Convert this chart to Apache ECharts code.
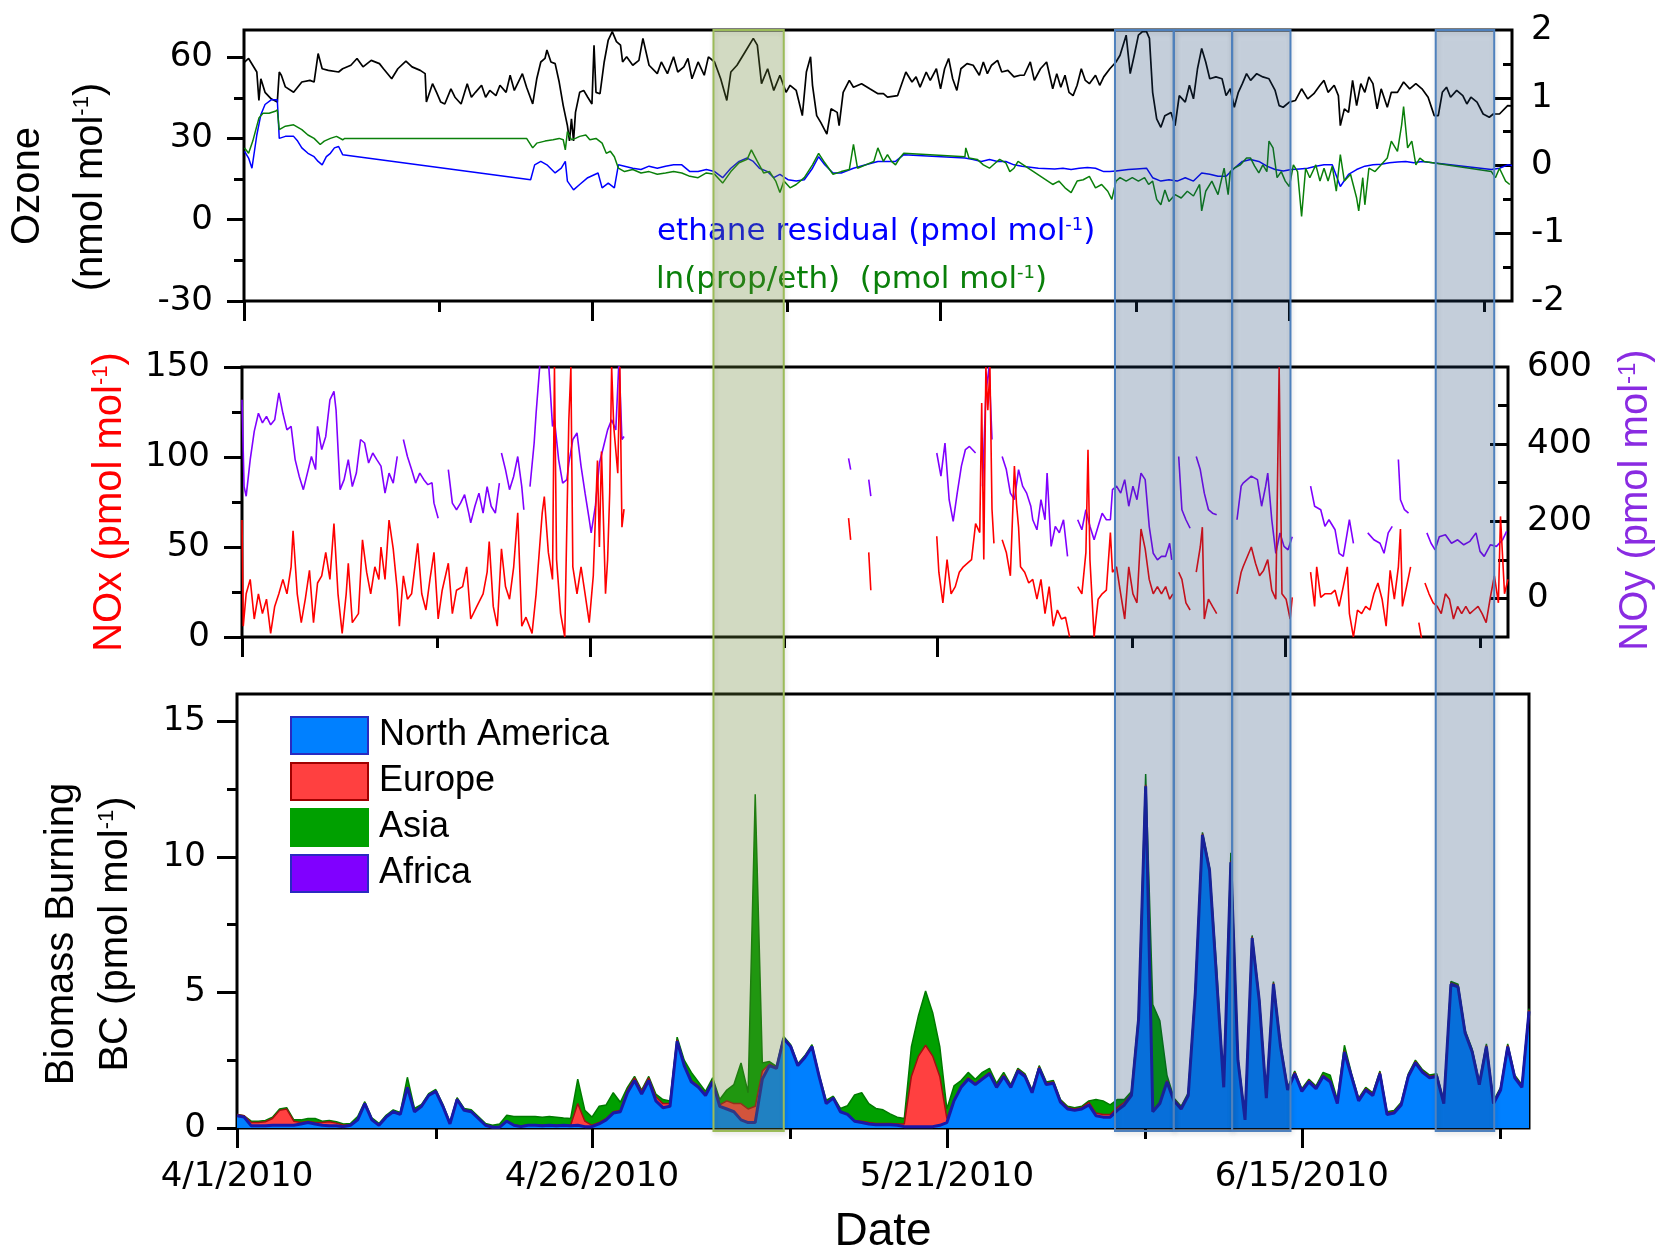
<!DOCTYPE html>
<html>
<head>
<meta charset="utf-8">
<script src="https://cdn.jsdelivr.net/npm/echarts@6/dist/echarts.min.js"></script>
<style>
  html, body { margin: 0; padding: 0; background: #fff; }
  #chart { width: 1657px; height: 1252px; }
</style>
</head>
<body>
<div id="chart"></div>
<script>
// Time axis: days since 1 Apr 2010 (0 .. 91)
const tickDays = [0, 25, 50, 75];
const tickLabels = ['4/1/2010', '4/26/2010', '5/21/2010', '6/15/2010'];
const minorTickDays = [14, 39, 64, 89];

// Highlighted periods (days since 1 Apr 2010)
const asiaPeriods = [[33.56, 38.51]];
const northAmericaPeriods = [[61.84, 65.98], [65.98, 70.09], [70.09, 74.2], [84.43, 88.55]];

// Ozone, nmol/mol : [day, value]
const ozone = [
  [0,58],[0.33,59.5],[0.92,54.5],[1.07,44],[1.21,52],[1.51,47],[1.95,44.6],[2.09,45.2],[2.39,43.4],[2.53,54.5],
  [2.68,53.3],[2.97,49],[3.56,47],[4.15,50.8],[4.73,51.4],[5.03,50.8],[5.32,61.3],[5.61,55.7],[6.05,55.1],[6.79,54.5],
  [7.08,55.7],[7.67,57],[8.11,59.5],[8.54,56.4],[9.13,58.8],[9.72,57.6],[10.01,55.7],[10.6,52],[11.04,55.7],[11.62,58.5],
  [12.06,56.4],[12.65,55.1],[13.0,53.9],[13.09,43.4],[13.53,50.2],[13.82,47],[14.12,43.4],[14.41,42.7],[14.85,48.3],[15.14,45.2],
  [15.58,42.7],[16.02,50.2],[16.32,45.2],[16.61,47],[17.05,49.6],[17.34,45.2],[17.64,47.7],[18.08,45.8],[18.37,49.6],[18.81,47],
  [19.1,53.3],[19.4,47.7],[19.98,53.9],[20.28,48.9],[20.72,42.7],[21.01,52],[21.3,58.2],[21.6,59.5],[21.74,62.6],[22.03,58.2],
  [22.33,57.6],[22.62,50.8],[22.91,42.1],[23.21,34.7],[23.36,29.1],[23.5,37.2],[23.65,29.1],[23.79,39.6],[24.09,47],[24.38,47.7],
  [24.67,45.2],[24.97,42.7],[25.12,64.4],[25.26,47],[25.55,46.5],[25.85,58.2],[26.14,66.3],[26.43,69.4],[26.73,65.7],[27.02,64.4],
  [27.17,58.2],[27.46,60.1],[27.9,57],[28.34,58.8],[28.63,66.9],[29.07,57],[29.66,53.9],[29.95,58.2],[30.39,53.9],[30.83,60.1],
  [31.13,54.5],[31.57,56.4],[31.86,59.5],[32.15,52],[32.59,58.2],[33.03,53.3],[33.33,60.1],[33.77,58.2],[34.21,52],[34.65,44],
  [34.94,54.5],[35.38,57],[35.96,61.9],[36.55,66.9],[36.84,64.4],[37.14,50.2],[37.58,55.7],[38.02,47.7],[38.46,53.3],[38.9,47],
  [39.19,49.6],[39.63,47.7],[40.07,38.4],[40.36,54.5],[40.66,60.1],[40.8,49.6],[41.1,38.4],[41.39,35.9],[41.83,31.6],[42.13,40.9],
  [42.57,39.6],[42.71,34.7],[43.0,47],[43.44,51.4],[43.74,48.9],[44.32,50.2],[44.91,48.3],[45.5,46.5],[45.89,46.5],[46.18,45.2],
  [46.91,45.8],[47.5,54.5],[47.94,50.8],[48.23,52.7],[48.52,48.9],[48.96,54.5],[49.25,51.4],[49.69,55.7],[49.99,48.3],[50.28,55.7],
  [50.57,59.5],[50.86,52],[51.16,47.7],[51.45,55.7],[51.89,57.6],[52.33,57],[52.77,53.3],[53.06,58.2],[53.35,53.9],[53.65,57],
  [54.08,58.8],[54.38,54.5],[54.82,55.1],[55.26,52.7],[55.7,53.3],[55.99,53.3],[56.43,58.2],[56.72,51.4],[57.16,55.7],[57.6,58.2],
  [58.04,48.3],[58.33,53.9],[58.62,48.9],[58.92,53.3],[59.21,47],[59.5,45.8],[59.79,49.6],[60.09,55.7],[60.38,51.4],[60.67,50.2],
  [61.11,53.3],[61.41,49.6],[61.7,52.7],[62.14,55.7],[62.58,58.2],[62.87,60.7],[63.31,68.1],[63.6,53.9],[63.89,60.7],[64.19,68.1],
  [64.48,69.4],[64.77,69.4],[64.98,66.9],[65.21,47],[65.5,37.2],[65.8,34.1],[66.09,38.4],[66.53,39.6],[66.82,34.7],[67.12,45.8],
  [67.55,43.4],[67.85,49.6],[68.14,44.6],[68.43,55.7],[68.73,63.2],[69.02,58.2],[69.31,52],[69.75,52.7],[70.19,52],[70.48,45.8],
  [70.78,48.3],[71.07,41.5],[71.36,47],[71.65,50.2],[71.95,53.9],[72.24,51.4],[72.68,53.9],[73.12,52.7],[73.56,52],[74.0,47.7],
  [74.29,42.1],[74.58,41.5],[75.02,43.4],[75.46,44],[75.9,48.3],[76.34,44.6],[76.78,46.5],[77.22,49.6],[77.51,51.4],[77.8,47],
  [78.24,49.6],[78.54,45.8],[78.68,34.7],[78.97,40.9],[79.27,39.6],[79.56,51.4],[79.85,42.1],[80.15,50.2],[80.44,47],[80.73,52.7],
  [81.02,50.2],[81.32,40.9],[81.61,48.3],[82.05,41.5],[82.34,47],[82.78,47],[83.22,50.8],[83.66,48.3],[84.1,50.2],[84.54,48.3],
  [84.98,45.2],[85.42,38.4],[85.71,38.4],[86.0,47],[86.3,48.9],[86.59,45.2],[87.03,47.7],[87.47,45.8],[87.76,42.7],[88.05,45.2],
  [88.49,43.4],[88.93,39],[89.37,37.8],[89.66,39],[90.1,39],[90.69,42.1],[91,42]
];

// Ethane residual, pmol/mol (right axis) : [day, value]
const ethaneResidual = [
  [0.04,0.21],[0.33,0.11],[0.57,-0.04],[0.92,0.45],[1.21,0.75],[1.51,0.9],[1.95,0.97],[2.39,0.97],[2.53,0.4],[2.97,0.43],
  [3.56,0.43],[3.85,0.36],[4.15,0.26],[4.59,0.18],[5.03,0.13],[5.32,0.06],[5.61,0.01],[5.91,0.13],[6.2,0.18],[6.49,0.26],
  [6.79,0.28],[7.08,0.16],[20.57,-0.21],[20.86,0.01],[21.3,0.06],[21.74,0.01],[22.33,-0.11],[22.77,-0.04],[23.06,0.06],[23.21,-0.23],
  [23.65,-0.36],[24.09,-0.28],[24.67,-0.18],[25.41,-0.11],[25.7,-0.33],[26.14,-0.26],[26.58,-0.33],[26.87,0.01],[27.31,-0.01],[27.9,-0.04],
  [28.49,-0.06],[29.07,-0.01],[29.66,-0.04],[30.25,-0.01],[30.83,0.01],[31.42,0.01],[32.0,-0.09],[32.59,-0.09],[33.18,-0.06],[33.77,-0.09],
  [34.35,-0.18],[34.94,-0.04],[35.53,0.06],[36.11,0.11],[36.55,0.06],[36.99,-0.04],[37.58,-0.09],[38.02,-0.18],[38.46,-0.13],[39.04,-0.21],
  [39.63,-0.23],[40.21,-0.21],[40.8,-0.04],[41.24,0.13],[41.68,0.01],[42.27,-0.11],[42.86,-0.11],[43.74,-0.04],[44.62,0.01],[45.49,0.06],
  [46.76,0.06],[47.35,0.16],[51.74,0.11],[52.33,0.09],[52.91,0.06],[53.5,0.09],[54.08,0.06],[54.67,0.06],[55.26,0.01],[55.84,-0.01],
  [57.01,-0.04],[58.18,-0.05],[58.77,-0.04],[59.36,-0.06],[59.94,-0.04],[60.53,-0.03],[61.11,-0.04],[61.7,-0.09],[62.14,-0.09],[62.58,-0.08],
  [63.46,-0.06],[64.04,-0.05],[64.77,-0.04],[65.21,-0.18],[65.8,-0.23],[66.38,-0.21],[66.97,-0.23],[67.55,-0.18],[68.14,-0.23],[68.73,-0.11],
  [69.31,-0.13],[69.9,-0.16],[70.48,-0.16],[71.07,-0.04],[71.65,0.06],[72.24,0.09],[72.83,0.06],[73.41,-0.01],[74.0,-0.06],[74.58,-0.08],
  [75.17,-0.06],[75.75,-0.05],[76.34,-0.04],[76.92,-0.01],[77.51,0.01],[78.1,0.01],[78.68,-0.31],[79.27,-0.13],[79.85,-0.06],[80.44,-0.01],
  [81.02,0.01],[81.61,0.02],[82.2,0.04],[82.78,0.05],[83.37,0.06],[83.95,0.04],[84.54,0.06],[89.52,-0.06],[90.1,-0.04],[90.69,0.01],
  [91,0.0]
];

// ln(propane/ethane) (right axis) : [day, value]
const lnPropEth = [
  [0.04,0.26],[0.33,0.18],[0.63,0.36],[1.07,0.7],[1.36,0.77],[1.8,0.77],[2.24,0.8],[2.39,0.82],[2.53,0.53],[2.97,0.58],
  [3.56,0.6],[4.15,0.53],[4.59,0.45],[5.03,0.4],[5.47,0.31],[5.76,0.36],[6.2,0.4],[6.64,0.43],[7.08,0.38],[7.23,0.4],
  [20.28,0.4],[20.42,0.38],[20.72,0.26],[21.01,0.33],[21.6,0.36],[22.18,0.38],[22.62,0.4],[22.91,0.38],[23.06,0.23],[23.21,0.5],
  [23.5,0.38],[23.79,0.4],[24.09,0.43],[24.53,0.45],[24.82,0.38],[25.26,0.4],[25.7,0.33],[26.0,0.18],[26.29,0.21],[26.58,0.13],
  [26.87,-0.04],[27.31,-0.09],[27.9,-0.06],[28.49,-0.11],[29.07,-0.09],[29.66,-0.13],[30.25,-0.11],[30.83,-0.09],[31.42,-0.11],[32.0,-0.16],
  [32.59,-0.18],[33.18,-0.11],[33.77,-0.13],[34.35,-0.26],[34.94,-0.09],[35.53,0.04],[36.11,0.09],[36.41,0.23],[36.84,0.06],[37.29,-0.11],
  [37.72,-0.09],[38.16,-0.23],[38.46,-0.4],[38.75,-0.23],[39.19,-0.33],[39.63,-0.28],[40.21,-0.18],[40.8,0.01],[41.24,0.18],[41.68,0.04],
  [42.27,-0.13],[42.86,-0.09],[43.44,-0.06],[43.74,0.31],[44.03,-0.04],[44.62,0.01],[45.2,0.06],[45.49,0.26],[45.89,0.06],[46.18,0.16],
  [46.47,0.06],[46.76,0.01],[47.06,0.11],[47.35,0.18],[51.74,0.13],[51.8,0.26],[52.03,0.11],[52.62,0.09],[53.06,0.01],[53.5,-0.04],
  [53.94,0.04],[54.23,0.09],[54.67,0.04],[54.96,-0.09],[55.26,-0.04],[55.55,0.06],[58.04,-0.28],[58.48,-0.23],[58.92,-0.33],[59.36,-0.4],
  [59.79,-0.23],[60.23,-0.21],[60.67,-0.16],[61.11,-0.33],[61.55,-0.28],[61.99,-0.38],[62.28,-0.5],[62.58,-0.23],[62.87,-0.18],[63.31,-0.23],
  [63.75,-0.18],[64.19,-0.23],[64.63,-0.18],[64.92,-0.28],[65.21,-0.23],[65.5,-0.5],[65.8,-0.58],[66.09,-0.36],[66.38,-0.53],[66.82,-0.43],
  [67.26,-0.48],[67.7,-0.38],[68.14,-0.45],[68.58,-0.28],[68.73,-0.67],[69.02,-0.38],[69.46,-0.23],[69.9,-0.43],[70.34,-0.04],[70.63,-0.43],
  [70.78,-0.09],[71.07,-0.04],[71.51,0.01],[71.95,0.11],[72.24,0.11],[72.53,-0.01],[72.83,-0.11],[73.12,0.01],[73.41,-0.09],[73.56,0.36],
  [73.85,0.26],[74.14,-0.18],[74.44,-0.09],[74.73,-0.23],[75.02,-0.31],[75.31,0.01],[75.61,-0.09],[75.9,-0.75],[76.19,-0.04],[76.49,-0.18],
  [76.92,0.01],[77.22,-0.23],[77.51,-0.04],[77.8,-0.23],[78.1,-0.01],[78.39,-0.38],[78.68,0.16],[78.97,-0.23],[79.41,-0.13],[79.85,-0.48],
  [80.0,-0.67],[80.29,-0.18],[80.44,-0.58],[80.73,-0.04],[81.17,-0.09],[81.61,0.01],[82.05,0.11],[82.34,0.36],[82.78,0.21],[83.08,0.6],
  [83.22,0.87],[83.51,0.26],[83.81,0.36],[84.1,0.01],[84.39,0.11],[84.69,0.06],[89.52,-0.09],[89.81,-0.18],[90.1,-0.04],[90.54,-0.23],
  [90.84,-0.28]
];

// NOx, pmol/mol : [day, value]; null marks a data gap
const nox = [
  [0.0,65],[0.09,6],[0.3,24],[0.59,32],[0.88,10],[1.18,24],[1.47,13],[1.76,21],[2.06,2],[2.35,17],
  [2.65,24],[2.94,32],[3.23,24],[3.53,39],[3.67,59],[3.97,24],[4.26,8],[4.55,21],[4.85,37],[5.14,8],
  [5.43,30],[5.73,34],[6.02,47],[6.32,32],[6.61,63],[6.9,24],[7.2,2],[7.49,24],[7.64,41],[7.93,8],
  [8.37,13],[8.66,54],[8.96,36],[9.25,24],[9.55,39],[9.84,32],[9.99,50],[10.28,32],[10.57,65],[10.87,49],
  [11.16,26],[11.31,6],[11.6,34],[11.89,21],[12.19,24],[12.63,52],[12.92,24],[13.22,15],[13.51,32],[13.8,47],
  [14.1,10],[14.39,26],[14.83,41],[15.12,13],[15.42,26],[15.86,28],[16.15,39],[16.44,10],[16.88,17],[17.33,24],
  [17.62,36],[17.77,53],[18.06,17],[18.35,6],[18.65,49],[18.94,28],[19.23,21],[19.53,39],[19.82,69],[20.11,6],
  [20.41,11],[20.85,2],[21.14,24],[21.58,69],[21.73,78],[22.02,47],[22.32,32],[22.46,150],[22.61,43],[22.9,13],
  [23.2,0],[23.49,120],[23.64,150],[23.78,39],[24.08,24],[24.37,39],[24.66,24],[24.96,8],[25.25,34],[25.55,98],
  [25.69,50],[25.84,103],[26.13,24],[26.28,43],[26.43,80],[26.57,150],[26.72,117],[27.01,91],[27.16,150],[27.31,61],
  [27.46,71],[27.6,null],
  [43.6,66],[43.75,54],[43.9,null],[45.05,47],[45.2,26],[45.4,null],
  [49.94,56],[50.09,36],[50.38,19],[50.68,43],[50.97,24],[51.27,28],[51.56,36],[51.85,39],[52.15,41],[52.44,43],
  [52.73,63],[53.03,58],[53.17,130],[53.32,43],[53.47,150],[53.61,126],[53.76,150],[53.91,71],[54.05,52],[54.3,null],
  [54.64,54],[54.94,47],[55.23,34],[55.52,95],[55.67,74],[55.82,61],[55.96,39],[56.26,36],[56.55,30],[56.84,32],
  [57.14,21],[57.43,32],[57.72,13],[58.02,28],[58.31,6],[58.61,15],[58.9,10],[59.19,11],[59.49,0],[59.7,null],
  [60.07,28],[60.37,24],[60.66,47],[60.81,104],[60.95,43],[61.25,0],[61.54,21],[61.83,24],[62.13,26],[62.42,58],
  [62.57,36],[62.86,39],[63.16,24],[63.45,10],[63.74,39],[64.04,24],[64.33,19],[64.62,60],[64.92,49],[65.21,32],
  [65.5,24],[65.8,28],[66.09,24],[66.39,28],[66.68,21],[66.91,24],[67.0,null],[67.33,36],[67.56,32],[67.85,19],
  [68.15,15],[68.3,null],[68.59,36],[68.88,50],[69.03,61],[69.17,10],[69.47,21],[69.76,17],[70.06,13],[70.5,null],
  [71.52,24],[71.82,36],[71.96,39],[72.55,50],[72.85,41],[73.14,34],[73.43,37],[73.73,43],[74.02,26],[74.31,21],
  [74.55,150],[74.75,24],[75.05,21],[75.34,10],[75.49,22],[76.0,null],[76.81,36],[77.1,17],[77.25,39],[77.54,22],
  [77.84,24],[78.28,24],[78.57,26],[78.86,17],[79.16,28],[79.45,39],[79.6,13],[79.89,0],[80.18,15],[80.48,13],
  [80.77,17],[81.07,15],[81.36,24],[81.65,30],[81.95,21],[82.24,6],[82.53,37],[82.83,21],[83.12,39],[83.27,60],
  [83.41,17],[83.71,28],[84.0,39],[84.3,null],[84.59,8],[84.88,-5],[84.95,null],[85.03,30],[85.32,24],[85.62,19],
  [85.91,17],[86.2,13],[86.5,24],[86.79,21],[87.08,10],[87.38,17],[87.67,13],[87.97,17],[88.26,13],[88.55,15],
  [88.85,17],[89.14,13],[89.43,8],[89.73,22],[90.02,34],[90.31,19],[90.46,67],[90.75,24],[91,32]
];

// NOy, pmol/mol (right axis) : [day, value]; null marks a data gap
const noy = [
  [0.0,515],[0.15,290],[0.3,265],[0.59,360],[0.88,433],[1.18,480],[1.47,455],[1.76,472],[2.06,450],[2.35,463],
  [2.65,533],[2.94,480],[3.23,437],[3.53,446],[3.82,360],[4.11,317],[4.41,282],[4.7,325],[4.99,368],[5.29,334],
  [5.43,446],[5.73,386],[6.02,420],[6.32,515],[6.61,537],[6.76,489],[7.05,282],[7.34,308],[7.64,360],[7.93,290],
  [8.22,325],[8.52,412],[8.81,403],[9.1,351],[9.4,377],[9.69,360],[9.99,343],[10.28,273],[10.57,325],[10.87,299],
  [11.16,368],[11.4,null],[11.6,412],[11.89,368],[12.19,334],[12.48,299],[12.78,325],[13.07,308],[13.36,295],[13.66,300],
  [13.8,247],[14.1,208],[14.4,null],[14.83,334],[15.12,247],[15.42,230],[15.71,247],[16.0,269],[16.3,221],[16.44,196],
  [16.74,239],[17.03,273],[17.33,221],[17.62,290],[17.91,239],[18.21,221],[18.5,299],[18.58,null],[18.65,377],[18.94,334],
  [19.23,282],[19.53,317],[19.82,368],[20.11,290],[20.26,230],[20.4,null],[20.7,290],[21.0,403],[21.14,480],[21.44,620],
  [21.73,650],[22.02,620],[22.32,446],[22.46,463],[22.76,360],[23.05,299],[23.35,308],[23.49,350],[23.78,412],[24.08,429],
  [24.37,343],[24.66,273],[24.96,204],[25.1,170],[25.4,239],[25.69,351],[25.99,394],[26.28,437],[26.57,463],[26.87,437],
  [27.1,620],[27.31,412],[27.46,420],[27.6,null],
  [43.6,363],[43.75,334],[43.9,null],[45.05,308],[45.2,265],[45.4,null],
  [49.94,377],[50.24,317],[50.53,403],[50.83,256],[51.12,200],[51.41,273],[51.71,343],[52.0,386],[52.29,394],[52.73,377],
  [52.9,null],[53.23,291],[53.47,533],[53.7,600],[53.91,412],[54.1,null],[54.64,368],[54.94,334],[55.23,273],[55.52,256],
  [55.82,334],[56.11,291],[56.4,273],[56.7,239],[56.84,204],[57.14,178],[57.43,256],[57.72,204],[57.87,325],[58.16,135],
  [58.46,187],[58.75,170],[59.05,204],[59.34,109],[59.6,null],[60.07,204],[60.37,178],[60.66,230],[60.95,187],[61.25,152],
  [61.54,187],[61.83,221],[62.13,204],[62.42,204],[62.57,282],[62.86,291],[63.16,273],[63.45,308],[63.74,239],[64.04,291],
  [64.33,256],[64.62,325],[64.92,308],[65.21,187],[65.5,117],[65.8,100],[66.09,109],[66.39,109],[66.68,143],[66.83,100],
  [67.0,null],[67.33,368],[67.56,230],[67.85,204],[68.15,182],[68.3,null],[68.59,368],[68.88,334],[69.17,273],[69.47,230],
  [69.76,221],[70.06,217],[70.5,null],[71.52,204],[71.82,291],[71.96,299],[72.55,317],[72.99,308],[73.29,239],[73.58,291],
  [73.73,325],[74.02,204],[74.31,117],[74.61,170],[74.9,135],[75.19,126],[75.49,160],[76.0,null],[76.81,291],[77.1,239],
  [77.54,230],[77.84,187],[78.13,204],[78.57,178],[78.86,117],[79.16,109],[79.6,204],[79.89,143],[80.05,null],[80.48,117],
  [80.6,null],[80.92,170],[81.36,152],[81.8,143],[82.09,117],[82.39,170],[82.68,187],[82.8,null],[83.12,360],[83.27,256],
  [83.56,230],[83.85,221],[84.2,null],[85.17,170],[85.47,143],[85.76,126],[86.06,160],[86.5,165],[86.94,143],[87.38,152],
  [87.82,139],[88.26,148],[88.7,170],[88.99,122],[89.29,109],[89.73,139],[90.17,135],[90.61,152],[90.9,174]
];

// Biomass-burning BC by source region, pmol/mol, one value every half day (day 0 .. 91)
const BC_STEP_DAYS = 0.5;
const bcNorthAmerica = [
  0.45, 0.4, 0.08, 0.08, 0.08, 0.1, 0.1, 0.1, 0.1, 0.15,
  0.2, 0.15, 0.1, 0.08, 0.08, 0.05, 0.1, 0.3, 0.9, 0.3,
  0.1, 0.4, 0.6, 0.5, 1.5, 0.6, 0.8, 1.2, 1.35, 0.8,
  0.15, 1.05, 0.65, 0.6, 0.35, 0.1, 0.03, 0.03, 0.25, 0.1,
  0.05, 0.1, 0.1, 0.08, 0.1, 0.08, 0.1, 0.08, 0.1, 0.05,
  0.05, 0.15, 0.3, 0.55, 0.6, 1.3, 1.75, 1.25, 1.75, 1.0,
  0.75, 0.8, 3.2, 2.3, 1.7, 1.5, 1.2, 1.7, 0.8, 0.7,
  0.6, 0.3, 0.2, 0.2, 1.8, 2.3, 2.2, 3.3, 3.0, 2.3,
  2.6, 3.0, 1.9, 0.9, 1.1, 0.6, 0.5, 0.25, 0.2, 0.15,
  0.12, 0.12, 0.12, 0.1, 0.05, 0.05, 0.05, 0.05, 0.05, 0.1,
  0.2, 1.0, 1.5, 1.8, 1.6, 1.8, 2.0, 1.5, 1.9, 1.5,
  2.1, 1.9, 1.3, 2.2, 1.6, 1.65, 0.95, 0.7, 0.65, 0.7,
  0.85, 0.45, 0.4, 0.4, 0.65, 0.85, 1.2, 4.0, 12.6, 0.6,
  0.9, 1.7, 1.0, 0.7, 1.2, 5.0, 10.8, 9.5, 5.5, 1.5,
  9.8, 2.5, 0.3, 7.0, 4.7, 1.1, 5.3, 3.0, 1.4, 2.0,
  1.35, 1.7, 1.45, 1.9, 1.7, 0.9, 2.8, 1.9, 1.0, 1.4,
  1.2, 2.0, 0.5, 0.55, 0.85, 1.9, 2.4, 2.05, 1.85, 1.9,
  0.9, 5.3, 5.2, 3.5, 2.8, 1.6, 3.0, 0.9, 1.4, 3.0,
  1.85, 1.5, 4.3
];
const bcEurope = [
  0.05, 0.05, 0.12, 0.12, 0.15, 0.25, 0.55, 0.6, 0.15, 0.05,
  0.05, 0.05, 0.1, 0.15, 0.1, 0.05, 0.02, 0.02, 0.02, 0.02,
  0.02, 0.02, 0.02, 0.02, 0.02, 0.02, 0.02, 0.02, 0.02, 0.02,
  0.02, 0.02, 0.02, 0.02, 0.02, 0.02, 0.02, 0.02, 0.02, 0.02,
  0.02, 0.02, 0.02, 0.02, 0.02, 0.02, 0.02, 0.02, 0.8, 0.2,
  0.05, 0.05, 0.05, 0.05, 0.05, 0.1, 0.1, 0.1, 0.1, 0.15,
  0.15, 0.1, 0.05, 0.05, 0.05, 0.05, 0.05, 0.05, 0.05, 0.3,
  0.3, 0.6, 0.5, 0.6, 0.3, 0.05, 0.02, 0.02, 0.02, 0.02,
  0.02, 0.02, 0.02, 0.02, 0.02, 0.02, 0.02, 0.02, 0.05, 0.05,
  0.05, 0.05, 0.05, 0.05, 0.1, 1.85, 2.6, 3.0, 2.6, 1.8,
  0.15, 0.05, 0.05, 0.05, 0.05, 0.05, 0.05, 0.05, 0.05, 0.05,
  0.05, 0.05, 0.05, 0.05, 0.05, 0.05, 0.05, 0.05, 0.05, 0.05,
  0.1, 0.1, 0.1, 0.1, 0.1, 0.1, 0.05, 0.05, 0.05, 0.05,
  0.05, 0.05, 0.05, 0.05, 0.05, 0.05, 0.05, 0.05, 0.05, 0.05,
  0.05, 0.05, 0.05, 0.05, 0.05, 0.05, 0.05, 0.05, 0.05, 0.05,
  0.05, 0.05, 0.05, 0.05, 0.05, 0.05, 0.05, 0.05, 0.05, 0.05,
  0.05, 0.05, 0.05, 0.05, 0.05, 0.05, 0.05, 0.05, 0.05, 0.05,
  0.05, 0.05, 0.05, 0.05, 0.05, 0.05, 0.05, 0.05, 0.05, 0.05,
  0.05, 0.05, 0.05
];
const bcAsia = [
  0, 0, 0.05, 0.05, 0.05, 0.05, 0.05, 0.05, 0.05, 0.1,
  0.1, 0.15, 0.05, 0.05, 0.05, 0.05, 0.05, 0.1, 0.05, 0.05,
  0.05, 0.05, 0.05, 0.05, 0.35, 0.1, 0.05, 0.05, 0.05, 0.05,
  0.05, 0.05, 0.05, 0.05, 0.05, 0.05, 0.05, 0.1, 0.2, 0.3,
  0.35, 0.3, 0.3, 0.3, 0.3, 0.3, 0.25, 0.25, 0.9, 0.4,
  0.3, 0.6, 0.5, 0.7, 0.3, 0.1, 0.05, 0.05, 0.05, 0.1,
  0.15, 0.1, 0.1, 0.15, 0.3, 0.15, 0.1, 0.1, 0.2, 0.4,
  0.7, 1.5, 0.6, 11.5, 0.3, 0.1, 0.05, 0.05, 0.05, 0.05,
  0.05, 0.05, 0.05, 0.1, 0.05, 0.1, 0.3, 0.95, 1.05, 0.7,
  0.55, 0.5, 0.35, 0.25, 0.2, 1.1, 1.5, 2.0, 1.6, 1.1,
  0.35, 0.5, 0.2, 0.2, 0.15, 0.2, 0.15, 0.1, 0.1, 0.05,
  0.05, 0.05, 0.05, 0.05, 0.05, 0.05, 0.05, 0.05, 0.05, 0.05,
  0.05, 0.5, 0.5, 0.35, 0.3, 0.1, 0.1, 0.1, 0.4, 3.9,
  3.0, 0.2, 0.05, 0.05, 0.05, 0.05, 0.05, 0.05, 0.3, 0.05,
  0.3, 0.05, 0.05, 0.05, 0.05, 0.05, 0.05, 0.05, 0.05, 0.05,
  0.05, 0.05, 0.05, 0.1, 0.2, 0.1, 0.2, 0.05, 0.05, 0.05,
  0.05, 0.05, 0.05, 0.05, 0.05, 0.05, 0.05, 0.05, 0.05, 0.05,
  0.05, 0.05, 0.05, 0.05, 0.05, 0.05, 0.05, 0.05, 0.05, 0.05,
  0.05, 0.05, 0.05
];
const bcAfrica = [];

// ---------------------------------------------------------------------------
// Stacked layers: each region is drawn on top of the ones below it
function stackLayers(layers) {
  const running = layers[0].map(() => 0);
  return layers.map(layer => layer.map((v, i) => {
    running[i] += v;
    return [i * BC_STEP_DAYS, +running[i].toFixed(3)];
  }));
}
const [bcNA, bcNAEU, bcNAEUAS] = stackLayers([bcNorthAmerica, bcEurope, bcAsia]);

const TICK_FONT = { fontFamily: 'DejaVu Sans', fontSize: 34, color: '#000' };
const TITLE_FAMILY = 'Liberation Sans, Arial, sans-serif';
const DAY_MAX = 91;

function xMajor(gridIndex, withLabels) {
  return {
    type: 'value', gridIndex, min: 0, max: DAY_MAX, position: 'bottom',
    axisLine: { show: false, onZero: false },
    splitLine: { show: false },
    axisTick: { show: true, customValues: tickDays, length: 20, lineStyle: { color: '#000', width: 3 } },
    axisLabel: withLabels ? {
      show: true, customValues: tickDays, margin: 32, ...TICK_FONT,
      formatter: v => { const i = tickDays.indexOf(v); return i >= 0 ? tickLabels[i] : ''; }
    } : { show: false }
  };
}
function xMinor(gridIndex) {
  return {
    type: 'value', gridIndex, min: 0, max: DAY_MAX, position: 'bottom',
    axisLine: { show: false, onZero: false }, splitLine: { show: false },
    axisTick: { show: true, customValues: minorTickDays, length: 11, lineStyle: { color: '#000', width: 3 } },
    axisLabel: { show: false }
  };
}
function yAxisDef(gridIndex, pos, min, max, labels, ticks, len, inside, margin) {
  return {
    type: 'value', gridIndex, position: pos, min, max,
    axisLine: { show: false, onZero: false }, splitLine: { show: false },
    axisTick: { show: true, customValues: ticks, length: len, inside, lineStyle: { color: '#000', width: 3 } },
    axisLabel: labels ? { show: true, customValues: labels, margin, ...TICK_FONT } : { show: false }
  };
}
function lineSeries(name, xi, yi, data, color, width, z) {
  return {
    name, type: 'line', xAxisIndex: xi, yAxisIndex: yi, data,
    showSymbol: false, symbol: 'none', connectNulls: false,
    lineStyle: { color, width }, itemStyle: { color }, z
  };
}
function areaSeries(name, data, fill, edge, edgeWidth, z) {
  return {
    name, type: 'line', xAxisIndex: 4, yAxisIndex: 8, data,
    showSymbol: false, symbol: 'none',
    itemStyle: { color: fill }, lineStyle: { color: edge, width: edgeWidth },
    areaStyle: { color: fill, opacity: 1 }, z
  };
}

const option = {
  animation: false,
  backgroundColor: '#fff',
  grid: [
    { left: 244, top: 30, width: 1268, height: 271, show: true, borderColor: '#000', borderWidth: 3, backgroundColor: 'transparent' },
    { left: 242, top: 367, width: 1266, height: 270, show: true, borderColor: '#000', borderWidth: 3, backgroundColor: 'transparent' },
    { left: 237, top: 694, width: 1292, height: 434, show: true, borderColor: '#000', borderWidth: 3, backgroundColor: 'transparent' }
  ],
  xAxis: [
    xMajor(0, false), xMinor(0),
    xMajor(1, false), xMinor(1),
    xMajor(2, true), xMinor(2)
  ],
  yAxis: [
    yAxisDef(0, 'left', -30, 70, [-30, 0, 30, 60], [-30, 0, 30, 60], 17, false, 31),
    yAxisDef(0, 'left', -30, 70, null, [-15, 15, 45], 10, false, 0),
    yAxisDef(0, 'right', -2, 2, [-2, -1, 0, 1, 2], [-1, 0, 1], 17, true, 19),
    yAxisDef(0, 'right', -2, 2, null, [-1.5, -0.5, 0.5, 1.5], 9, true, 0),
    yAxisDef(1, 'left', 0, 150, [0, 50, 100, 150], [0, 50, 100, 150], 18, false, 32),
    yAxisDef(1, 'left', 0, 150, null, [25, 75, 125], 10, false, 0),
    yAxisDef(1, 'right', -100, 600, [0, 200, 400, 600], [0, 200, 400], 18, true, 19),
    yAxisDef(1, 'right', -100, 600, null, [100, 300, 500], 10, true, 0),
    yAxisDef(2, 'left', 0, 16, [0, 5, 10, 15], [0, 5, 10, 15], 20, false, 31),
    yAxisDef(2, 'left', 0, 16, null, [2.5, 7.5, 12.5], 10, false, 0)
  ],
  legend: {
    data: [
      { name: 'North America', itemStyle: { color: '#0080ff', borderColor: '#2a2ac0', borderWidth: 2 } },
      { name: 'Europe', itemStyle: { color: '#ff4040', borderColor: '#a00000', borderWidth: 2 } },
      { name: 'Asia', itemStyle: { color: '#00a000', borderColor: '#00a000', borderWidth: 2 } },
      { name: 'Africa', itemStyle: { color: '#8000ff', borderColor: '#2a2ac0', borderWidth: 2 } }
    ],
    left: 290, top: 716, padding: 0, orient: 'vertical', icon: 'rect', z: 20,
    itemWidth: 77, itemHeight: 37, itemGap: 7, selectedMode: false,
    textStyle: { fontFamily: TITLE_FAMILY, fontSize: 36, lineHeight: 37, color: '#000', padding: [0, 0, 0, 6] }
  },
  series: [
    lineSeries('Ozone', 0, 0, ozone, '#000000', 1.7, 3),
    lineSeries('ethane residual', 0, 2, ethaneResidual, '#0000ff', 1.5, 3),
    lineSeries('ln(prop/eth)', 0, 2, lnPropEth, '#0a800a', 1.5, 4),
    lineSeries('NOy', 2, 6, noy, '#8000ff', 1.6, 3),
    lineSeries('NOx', 2, 4, nox, '#ff0000', 1.6, 4),
    areaSeries('Asia', bcNAEUAS, '#00a000', '#007a00', 1.5, 3),
    areaSeries('Europe', bcNAEU, '#ff4040', '#a01010', 1.5, 4),
    areaSeries('North America', bcNA, '#0080ff', '#1818a8', 3, 5),
    areaSeries('Africa', bcAfrica, '#8000ff', '#5000c0', 1.5, 2)
  ]
};

const chart = echarts.init(document.getElementById('chart'), null, { renderer: 'canvas' });
chart.setOption(option);

// Axis titles and annotations
function supText(main, tail, size, supSize, family) {
  return {
    text: '{m|' + main + '}{s|-1}{m|' + tail + '}',
    rich: {
      m: { fontSize: size, fontFamily: family },
      s: { fontSize: supSize, fontFamily: family, verticalAlign: 'top', lineHeight: size }
    }
  };
}
function titleText(x, y, rot, content, color) {
  return {
    type: 'text', x, y, rotation: rot, z: 50,
    style: Object.assign({ fill: color, align: 'center', verticalAlign: 'middle' }, content)
  };
}
const R = Math.PI / 2;
const texts = [
  titleText(28, 186, R, { text: 'Ozone', fontSize: 40, fontFamily: TITLE_FAMILY }, '#000'),
  titleText(91, 187, R, supText('(nmol mol', ')', 40, 22, TITLE_FAMILY), '#000'),
  titleText(110, 502, R, supText('NOx (pmol mol', ')', 40, 22, TITLE_FAMILY), '#ff0000'),
  titleText(1636, 500, R, supText('NOy (pmol mol', ')', 40, 24, TITLE_FAMILY), '#8a2be2'),
  titleText(62, 934, R, { text: 'Biomass Burning', fontSize: 40, fontFamily: TITLE_FAMILY }, '#000'),
  titleText(116, 934, R, supText('BC (pmol mol', ')', 40, 22, TITLE_FAMILY), '#000'),
  titleText(883, 1232, 0, { text: 'Date', fontSize: 46, fontFamily: TITLE_FAMILY }, '#000'),
  {
    type: 'text', x: 657, y: 232, z: 50,
    style: Object.assign({ fill: '#0000ff', align: 'left', verticalAlign: 'middle' },
      supText('ethane residual (pmol mol', ')', 31, 18, 'DejaVu Sans'))
  },
  {
    type: 'text', x: 656, y: 280, z: 50,
    style: Object.assign({ fill: '#0a800a', align: 'left', verticalAlign: 'middle' },
      supText('ln(prop/eth)  (pmol mol', ')', 31, 18, 'DejaVu Sans'))
  }
];

// Shaded periods spanning all three panels, positioned on the Date axis
const yTop = chart.convertToPixel({ yAxisIndex: 0 }, 70);
const yBottom = chart.convertToPixel({ yAxisIndex: 8 }, 0) + 3;
function band(range, fill, stroke) {
  const x0 = chart.convertToPixel({ xAxisIndex: 4 }, range[0]);
  const x1 = chart.convertToPixel({ xAxisIndex: 4 }, range[1]);
  return {
    type: 'rect', z: 100,
    shape: { x: x0, y: yTop, width: x1 - x0, height: yBottom - yTop },
    style: { fill, stroke, lineWidth: 2, shadowBlur: 5, shadowColor: 'rgba(0,0,0,0.15)', shadowOffsetX: 1, shadowOffsetY: 2 }
  };
}
const bands = [
  ...asiaPeriods.map(r => band(r, 'rgba(118,146,60,0.27)', '#9bbb59')),
  ...northAmericaPeriods.map(r => band(r, 'rgba(31,73,125,0.23)', '#4f81bd'))
];

chart.setOption({ graphic: { elements: texts.concat(bands) } });
</script>
</body>
</html>
